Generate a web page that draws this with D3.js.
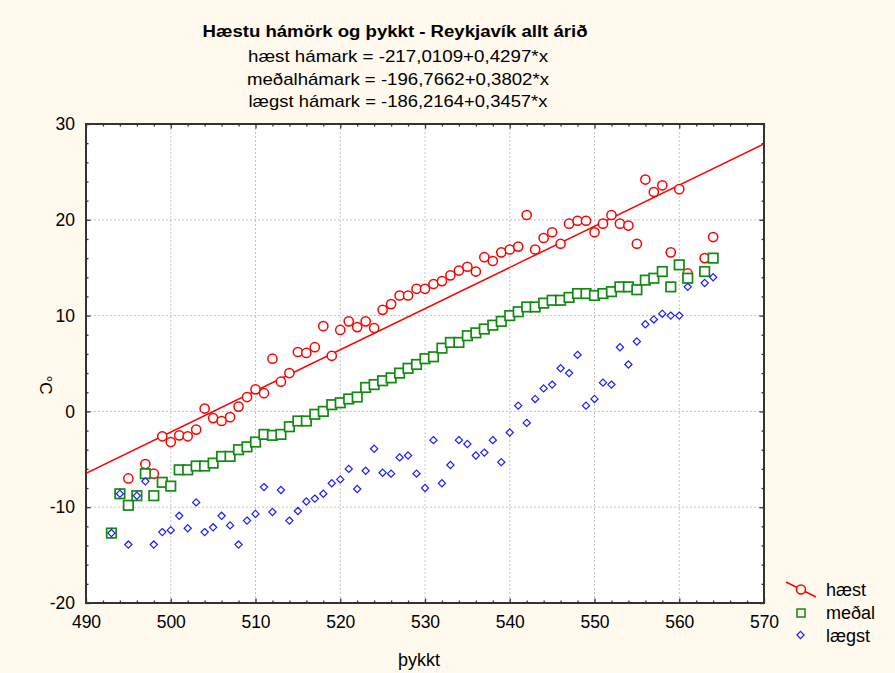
<!DOCTYPE html>
<html>
<head>
<meta charset="utf-8">
<script src="https://cdn.jsdelivr.net/npm/d3@7"></script>
<style>
  html, body { margin: 0; padding: 0; background: #fff9ee; }
  svg { display: block; }
  text { font-family: "Liberation Sans", Arial, sans-serif; fill: #000; }
</style>
</head>
<body>
<svg id="chart" width="895" height="673"></svg>
<script>
// þykkt (thickness) values
const thickness = [493,494,495,496,497,498,499,500,501,502,503,504,505,506,507,508,509,510,
  511,512,513,514,515,516,517,518,519,520,521,522,523,524,525,526,527,528,529,530,
  531,532,533,534,535,536,537,538,539,540,541,542,543,544,545,546,547,548,549,550,
  551,552,553,554,555,556,557,558,559,560,561,563,564];

// hæst hámark
const haest = [-12.7,-8.6,-7.0,-8.8,-5.5,-6.5,-2.6,-3.2,-2.5,-2.6,-1.9,0.3,-0.7,-1.0,-0.6,0.5,1.5,2.3,
  1.9,5.5,3.1,4.0,6.2,6.1,6.7,8.9,5.8,8.5,9.4,8.8,9.4,8.7,10.6,11.2,12.1,12.1,12.8,12.8,
  13.3,13.6,14.2,14.7,15.1,14.6,16.1,15.7,16.6,16.9,17.2,20.5,16.9,18.1,18.7,17.5,19.6,19.9,19.9,18.7,
  19.6,20.5,19.6,19.4,17.5,24.2,22.9,23.6,16.6,23.2,14.4,16.0,18.2];

// meðalhámark
const medal = [-12.7,-8.6,-9.8,-8.8,-6.5,-8.8,-7.4,-7.8,-6.1,-6.1,-5.7,-5.7,-5.4,-4.7,-4.7,-4.0,-3.7,-3.2,
  -2.4,-2.5,-2.4,-1.6,-1.0,-1.0,-0.3,0.0,0.7,0.9,1.3,1.5,2.5,2.8,3.2,3.5,4.0,4.5,4.9,5.5,
  5.7,6.6,7.2,7.2,7.9,8.2,8.6,9.0,9.4,10.0,10.4,10.9,10.9,11.3,11.6,11.6,11.9,12.3,12.3,12.1,
  12.3,12.5,13.0,13.0,12.7,13.7,13.9,14.6,13.0,15.3,13.9,14.6,16.0];

// lægst hámark
const laegst = [-12.7,-8.6,-13.9,-8.8,-7.3,-13.9,-12.6,-12.4,-10.9,-12.2,-9.5,-12.6,-12.1,-10.9,-11.9,-13.9,-11.4,-10.7,
  -7.9,-10.5,-8.2,-11.4,-10.4,-9.4,-9.1,-8.6,-7.5,-7.1,-6.0,-8.1,-6.2,-3.9,-6.4,-6.5,-4.8,-4.6,-6.5,-8.0,
  -3.0,-7.5,-5.6,-3.0,-3.4,-4.6,-4.3,-3.0,-5.3,-2.2,0.6,-1.2,1.3,2.4,2.8,4.5,4.0,5.9,0.6,1.3,
  3.0,2.8,6.7,4.9,7.3,9.1,9.6,10.2,10.0,10.0,13.0,13.4,14.0];

// fitted line for hæst hámark: intercept, slope
const haestFit = [-217.0109, 0.4297];

const titleText = "Hæstu hámörk og þykkt - Reykjavík allt árið";
const equations = [
  "hæst hámark = -217,0109+0,4297*x",
  "meðalhámark = -196,7662+0,3802*x",
  "lægst hámark = -186,2164+0,3457*x"
];
const legendLabels = ["hæst", "meðal", "lægst"];
const xTicks = [490,500,510,520,530,540,550,560,570];
const yTicks = [-20,-10,0,10,20,30];
const xLabel = "þykkt";
const yLabel = "°C";

const svg = d3.select("#chart");
const pL = 86, pR = 764, pT = 124, pB = 603;

const x = d3.scaleLinear().domain([490, 570]).range([pL, pR]);
const y = d3.scaleLinear().domain([-20, 30]).range([pB, pT]);

// plot background
svg.append("rect").attr("x", pL).attr("y", pT)
  .attr("width", pR - pL).attr("height", pB - pT).attr("fill", "#ffffff");

// grid
const grid = svg.append("g").attr("stroke", "#c4c4c4").attr("stroke-width", 1)
  .attr("stroke-dasharray", "2,2");
xTicks.slice(1, -1).forEach(v => {
  grid.append("line").attr("x1", x(v)).attr("x2", x(v)).attr("y1", pT).attr("y2", pB);
});
yTicks.slice(1, -1).forEach(v => {
  grid.append("line").attr("y1", y(v)).attr("y2", y(v)).attr("x1", pL).attr("x2", pR);
});

// axes: major and minor ticks pointing inward on all four sides
const minorX = d3.range(490, 571, 2).filter(v => v % 10 !== 0);
const minorY = d3.range(-20, 31, 2).filter(v => v % 10 !== 0);
const fmt = d => String(d);

function styleAxis(g) {
  g.select(".domain").remove();
  g.selectAll(".tick line").attr("stroke", "#333").attr("stroke-width", 1.3);
  g.selectAll(".tick text").style("font-size", "17.5px")
    .style("font-family", "'Liberation Sans', Arial, sans-serif").attr("fill", "#000");
}

svg.append("g").attr("transform", `translate(0,${pB})`)
  .call(d3.axisBottom(x).tickValues(xTicks).tickFormat(fmt).tickSize(-4.5).tickPadding(13))
  .call(styleAxis);
svg.append("g").attr("transform", `translate(0,${pB})`)
  .call(d3.axisBottom(x).tickValues(minorX).tickFormat("").tickSize(-2.5)).call(styleAxis);
svg.append("g").attr("transform", `translate(0,${pT})`)
  .call(d3.axisTop(x).tickValues(xTicks).tickFormat("").tickSize(-4.5)).call(styleAxis);
svg.append("g").attr("transform", `translate(0,${pT})`)
  .call(d3.axisTop(x).tickValues(minorX).tickFormat("").tickSize(-2.5)).call(styleAxis);

svg.append("g").attr("transform", `translate(${pL},0)`)
  .call(d3.axisLeft(y).tickValues(yTicks).tickFormat(fmt).tickSize(-4.5).tickPadding(11))
  .call(styleAxis);
svg.append("g").attr("transform", `translate(${pL},0)`)
  .call(d3.axisLeft(y).tickValues(minorY).tickFormat("").tickSize(-2.5)).call(styleAxis);
svg.append("g").attr("transform", `translate(${pR},0)`)
  .call(d3.axisRight(y).tickValues(yTicks).tickFormat("").tickSize(-4.5)).call(styleAxis);
svg.append("g").attr("transform", `translate(${pR},0)`)
  .call(d3.axisRight(y).tickValues(minorY).tickFormat("").tickSize(-2.5)).call(styleAxis);

// frame
svg.append("rect").attr("x", pL).attr("y", pT)
  .attr("width", pR - pL).attr("height", pB - pT)
  .attr("fill", "none").attr("stroke", "#333").attr("stroke-width", 2);

// clip for marks inside the plot
svg.append("clipPath").attr("id", "plotClip").append("rect")
  .attr("x", pL).attr("y", pT).attr("width", pR - pL).attr("height", pB - pT);
const plot = svg.append("g").attr("clip-path", "url(#plotClip)");

// regression line for hæst
const fitY = v => haestFit[0] + haestFit[1] * v;
plot.append("line")
  .attr("x1", x(490)).attr("y1", y(fitY(490)))
  .attr("x2", x(570)).attr("y2", y(fitY(570)))
  .attr("stroke", "#ff0000").attr("stroke-width", 1.5);

const red = "#ff0000", green = "#108a10", blue = "#1c1cff";

// hæst: circles
plot.append("g").selectAll("circle").data(thickness.map((t, i) => [t, haest[i]]))
  .join("circle")
  .attr("cx", d => x(d[0])).attr("cy", d => y(d[1])).attr("r", 4.6)
  .attr("fill", "#fff").attr("stroke", red).attr("stroke-width", 1.5);

// meðal: squares
const sq = 9.5;
plot.append("g").selectAll("rect").data(thickness.map((t, i) => [t, medal[i]]))
  .join("rect")
  .attr("x", d => x(d[0]) - sq / 2).attr("y", d => y(d[1]) - sq / 2)
  .attr("width", sq).attr("height", sq)
  .attr("fill", "#fff").attr("stroke", green).attr("stroke-width", 1.7);

// lægst: diamonds
const dm = 3.6;
const diamond = (cx, cy, r) => `M${cx},${cy - r}L${cx + r},${cy}L${cx},${cy + r}L${cx - r},${cy}Z`;
plot.append("g").selectAll("path").data(thickness.map((t, i) => [t, laegst[i]]))
  .join("path")
  .attr("d", d => diamond(x(d[0]), y(d[1]), dm))
  .attr("fill", "#fff").attr("stroke", blue).attr("stroke-width", 1.2);

// titles
svg.append("text").attr("x", 395).attr("y", 37).attr("text-anchor", "middle")
  .style("font-size", "16px").style("font-weight", "bold")
  .attr("textLength", 385).attr("lengthAdjust", "spacingAndGlyphs")
  .text(titleText);
const eqBase = [62, 85, 107];
const eqLen = [300, 302, 299];
equations.forEach((t, i) => {
  svg.append("text").attr("x", 398).attr("y", eqBase[i]).attr("text-anchor", "middle")
    .style("font-size", "17px")
    .attr("textLength", eqLen[i]).attr("lengthAdjust", "spacingAndGlyphs")
    .text(t);
});

// axis titles
svg.append("text").attr("x", 419).attr("y", 666).attr("text-anchor", "middle")
  .style("font-size", "18px").text(xLabel);
svg.append("text").attr("transform", "translate(40,385) rotate(90)")
  .attr("text-anchor", "middle").style("font-size", "17px").text(yLabel);

// legend
const lg = svg.append("g");
lg.append("line").attr("x1", 786).attr("y1", 582).attr("x2", 816).attr("y2", 597)
  .attr("stroke", red).attr("stroke-width", 1.5);
lg.append("circle").attr("cx", 801).attr("cy", 589.5).attr("r", 4.5)
  .attr("fill", "#fff9ee").attr("stroke", red).attr("stroke-width", 1.5);
lg.append("rect").attr("x", 797).attr("y", 609).attr("width", 8).attr("height", 8)
  .attr("fill", "none").attr("stroke", green).attr("stroke-width", 1.5);
lg.append("path").attr("d", diamond(800.5, 635, 3.6))
  .attr("fill", "none").attr("stroke", blue).attr("stroke-width", 1.2);
const legY = [596, 618.5, 641.5];
legendLabels.forEach((t, i) => {
  lg.append("text").attr("x", 826).attr("y", legY[i]).style("font-size", "18px").text(t);
});
</script>
</body>
</html>
